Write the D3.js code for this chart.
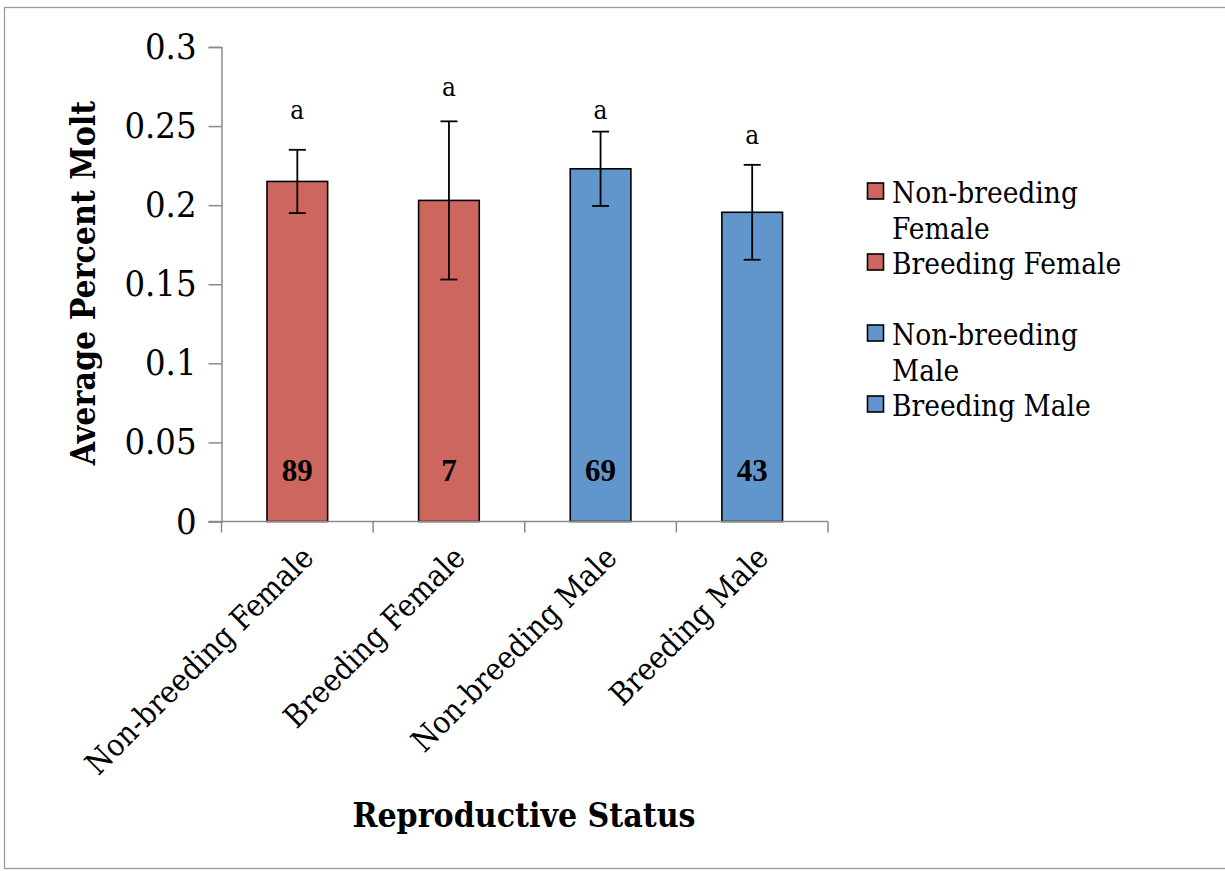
<!DOCTYPE html>
<html>
<head>
<meta charset="utf-8">
<script src="https://cdn.jsdelivr.net/npm/d3@7"></script>
<style>
  html, body { margin: 0; padding: 0; background: #fff; }
  svg { display: block; }
  text { font-family: 'DejaVu Serif Condensed', 'DejaVu Serif', 'Liberation Serif', serif; font-stretch: condensed; fill: #000; }
</style>
</head>
<body>
<svg id="chart" width="1225" height="871"></svg>
<script>
// ---- data ----
const categories = ["Non-breeding Female", "Breeding Female", "Non-breeding Male", "Breeding Male"];
const means = [0.215, 0.203, 0.223, 0.1955];
const errors = [0.020, 0.050, 0.0235, 0.030];
const sampleSizes = ["89", "7", "69", "43"];
const sigLetters = ["a", "a", "a", "a"];
const sigLetterValues = [0.260, 0.2745, 0.260, 0.2445];
const groups = ["female", "female", "male", "male"];
const yTicks = [0, 0.05, 0.1, 0.15, 0.2, 0.25, 0.3];
const legendLabels = [["Non-breeding", "Female"], ["Breeding Female"], ["Non-breeding", "Male"], ["Breeding Male"]];

const colors = { female: "#CD665F", male: "#6096CB" };
const axisColor = "#8a8a8a";

const svg = d3.select("#chart");

// outer frame
svg.append("rect")
  .attr("x", 4.5).attr("y", 7.5).attr("width", 1240).attr("height", 861)
  .attr("fill", "none").attr("stroke", "#9a9a9a").attr("stroke-width", 1.3);

const x0 = 221.5, x1 = 828, yBottom = 521.5, yTop = 47;

const x = d3.scaleBand().domain(categories).range([x0, x1]).paddingInner(0.6).paddingOuter(0.3);
const y = d3.scaleLinear().domain([0, 0.3]).range([yBottom, yTop]);

// y axis
const yAxis = svg.append("g").attr("transform", `translate(${x0},0)`)
  .call(d3.axisLeft(y).tickValues(yTicks).tickSize(13).tickPadding(12)
    .tickFormat(d => d === 0 ? "0" : String(+d.toFixed(2))));
yAxis.select(".domain").attr("stroke", axisColor).attr("stroke-width", 1.5);
yAxis.selectAll(".tick line").attr("stroke", axisColor).attr("stroke-width", 1.5);
yAxis.selectAll(".tick text")
  .style("font-family", "'DejaVu Serif Condensed', 'DejaVu Serif', serif")
  .attr("font-size", 36).attr("fill", "#000");

// bars
svg.append("g").selectAll("rect").data(categories).join("rect")
  .attr("x", d => x(d))
  .attr("y", (d, i) => y(means[i]))
  .attr("width", x.bandwidth())
  .attr("height", (d, i) => y(0) - y(means[i]))
  .attr("fill", (d, i) => colors[groups[i]])
  .attr("stroke", "#000").attr("stroke-width", 1.6);

// x axis (drawn after bars so the baseline is on top)
const step = x.step();
const xAxisG = svg.append("g");
xAxisG.append("line")
  .attr("x1", x0 - 13).attr("x2", x1).attr("y1", yBottom).attr("y2", yBottom)
  .attr("stroke", axisColor).attr("stroke-width", 1.5);
const boundaries = categories.map(c => x(c) + x.bandwidth() / 2 - step / 2).concat([x(categories[categories.length - 1]) + x.bandwidth() / 2 + step / 2]);
xAxisG.selectAll("line.tk").data(boundaries).join("line").attr("class", "tk")
  .attr("x1", d => d).attr("x2", d => d).attr("y1", yBottom).attr("y2", yBottom + 11)
  .attr("stroke", axisColor).attr("stroke-width", 1.5);

// error bars
const eb = svg.append("g").attr("stroke", "#000").attr("stroke-width", 1.8);
categories.forEach((c, i) => {
  const cx = x(c) + x.bandwidth() / 2;
  const hi = y(means[i] + errors[i]), lo = y(means[i] - errors[i]);
  eb.append("line").attr("x1", cx).attr("x2", cx).attr("y1", hi).attr("y2", lo);
  eb.append("line").attr("x1", cx - 8.5).attr("x2", cx + 8.5).attr("y1", hi).attr("y2", hi);
  eb.append("line").attr("x1", cx - 8.5).attr("x2", cx + 8.5).attr("y1", lo).attr("y2", lo);
});

// significance letters
svg.append("g").selectAll("text").data(categories).join("text")
  .attr("x", d => x(d) + x.bandwidth() / 2)
  .attr("y", (d, i) => y(sigLetterValues[i]))
  .attr("dy", "0.35em")
  .attr("text-anchor", "middle").attr("font-size", 26)
  .text((d, i) => sigLetters[i]);

// sample sizes
svg.append("g").selectAll("text").data(categories).join("text")
  .attr("x", d => x(d) + x.bandwidth() / 2)
  .attr("y", 481)
  .attr("text-anchor", "middle").attr("font-size", 31).attr("font-weight", "bold")
  .style("font-family", "'Liberation Serif', serif")
  .text((d, i) => sampleSizes[i]);

// category labels (rotated)
svg.append("g").selectAll("text").data(categories).join("text")
  .attr("transform", d => `translate(${x(d) + x.bandwidth() / 2 + 18},${yBottom + 38}) rotate(-45)`)
  .attr("text-anchor", "end").attr("font-size", 31)
  .text(d => d);

// axis titles
svg.append("text")
  .attr("transform", "translate(95,283) rotate(-90)")
  .attr("text-anchor", "middle").attr("font-size", 33.5).attr("font-weight", "bold")
  .text("Average Percent Molt");
svg.append("text")
  .attr("x", 524).attr("y", 827)
  .attr("text-anchor", "middle").attr("font-size", 33.5).attr("font-weight", "bold")
  .text("Reproductive Status");

// legend
const leg = svg.append("g").attr("transform", "translate(867,0)");
legendLabels.forEach((lines, i) => {
  const cy = 193 + i * 71;
  leg.append("rect").attr("x", 0.5).attr("y", cy - 10).attr("width", 16).attr("height", 16)
    .attr("fill", colors[groups[i]]).attr("stroke", "#000").attr("stroke-width", 1.6);
  const t = leg.append("text").attr("x", 25).attr("y", cy).attr("font-size", 29.5);
  lines.forEach((ln, j) => t.append("tspan").attr("x", 25).attr("dy", j === 0 ? "0.35em" : 36).text(ln));
});
</script>
</body>
</html>
